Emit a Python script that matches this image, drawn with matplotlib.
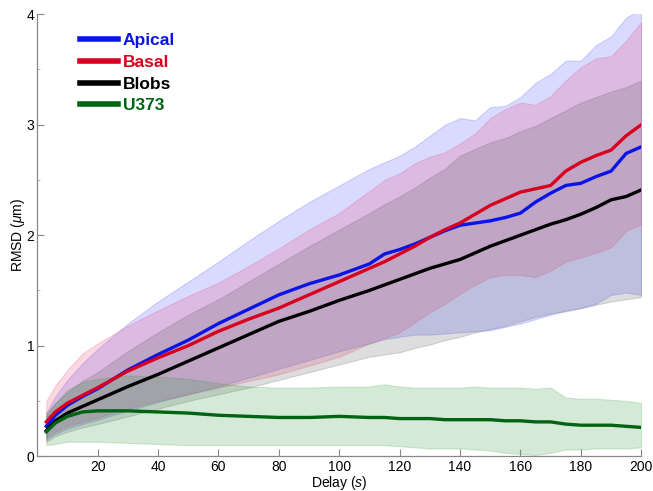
import numpy as np
from matplotlib import pyplot as plt
from matplotlib.ticker import MultipleLocator

plt.rcParams["font.family"] = ["Liberation Sans", "DejaVu Sans"]
plt.rcParams["mathtext.fontset"] = "custom"
plt.rcParams["mathtext.it"] = "Liberation Sans:italic"
plt.rcParams["mathtext.rm"] = "Liberation Sans"

delay = [3, 6, 10, 15, 20, 30, 40, 50, 60, 70, 80, 90, 100, 110, 115, 120, 125,
         130, 135, 140, 145, 150, 155, 160, 165, 170, 175, 180, 185, 190, 195, 200]

apical = [0.27, 0.37, 0.46, 0.54, 0.61, 0.78, 0.92, 1.05, 1.20, 1.33, 1.46, 1.56, 1.64,
          1.74, 1.83, 1.87, 1.92, 1.98, 2.04, 2.09, 2.11, 2.13, 2.16, 2.20, 2.30, 2.38,
          2.45, 2.47, 2.53, 2.58, 2.74, 2.80]
apical_hi = [0.39, 0.54, 0.69, 0.84, 0.97, 1.20, 1.40, 1.58, 1.76, 1.95, 2.13, 2.30, 2.45,
             2.60, 2.66, 2.72, 2.80, 2.90, 3.00, 3.06, 3.04, 3.16, 3.17, 3.25, 3.38, 3.46,
             3.58, 3.58, 3.72, 3.80, 3.97, 4.05]
apical_lo = [0.15, 0.20, 0.25, 0.29, 0.33, 0.41, 0.49, 0.56, 0.63, 0.71, 0.79, 0.87, 0.95,
             1.02, 1.06, 1.08, 1.10, 1.10, 1.11, 1.12, 1.13, 1.14, 1.17, 1.20, 1.24, 1.28,
             1.32, 1.34, 1.38, 1.46, 1.48, 1.46]

basal = [0.31, 0.40, 0.48, 0.55, 0.62, 0.77, 0.89, 1.00, 1.13, 1.24, 1.34, 1.46, 1.58,
         1.70, 1.76, 1.83, 1.90, 1.98, 2.05, 2.11, 2.19, 2.27, 2.33, 2.39, 2.42, 2.45,
         2.58, 2.66, 2.72, 2.77, 2.90, 3.00]
basal_hi = [0.50, 0.64, 0.78, 0.93, 1.02, 1.18, 1.32, 1.45, 1.57, 1.72, 1.88, 2.05, 2.20,
            2.40, 2.50, 2.56, 2.65, 2.71, 2.75, 2.83, 2.92, 3.06, 3.14, 3.20, 3.18, 3.26,
            3.40, 3.52, 3.60, 3.62, 3.76, 3.93]
basal_lo = [0.17, 0.22, 0.27, 0.31, 0.35, 0.43, 0.50, 0.56, 0.62, 0.68, 0.74, 0.82, 0.90,
            1.02, 1.07, 1.12, 1.21, 1.30, 1.38, 1.47, 1.55, 1.62, 1.64, 1.64, 1.62, 1.68,
            1.76, 1.80, 1.84, 1.89, 2.04, 2.10]

blobs = [0.23, 0.32, 0.39, 0.45, 0.51, 0.63, 0.74, 0.86, 0.98, 1.10, 1.22, 1.31, 1.41,
         1.50, 1.55, 1.60, 1.65, 1.70, 1.74, 1.78, 1.84, 1.90, 1.95, 2.00, 2.05, 2.10,
         2.14, 2.19, 2.25, 2.32, 2.35, 2.41]
blobs_hi = [0.39, 0.48, 0.58, 0.68, 0.76, 0.95, 1.12, 1.28, 1.42, 1.58, 1.74, 1.90, 2.05,
            2.20, 2.28, 2.35, 2.43, 2.52, 2.60, 2.72, 2.78, 2.84, 2.88, 2.94, 2.99, 3.06,
            3.13, 3.20, 3.25, 3.30, 3.34, 3.40]
blobs_lo = [0.13, 0.18, 0.22, 0.26, 0.29, 0.36, 0.43, 0.50, 0.56, 0.62, 0.69, 0.76, 0.83,
            0.90, 0.92, 0.94, 0.98, 1.01, 1.05, 1.08, 1.12, 1.15, 1.18, 1.22, 1.26, 1.29,
            1.31, 1.34, 1.37, 1.40, 1.42, 1.44]

u373 = [0.22, 0.30, 0.36, 0.40, 0.41, 0.41, 0.40, 0.39, 0.37, 0.36, 0.35, 0.35, 0.36,
        0.35, 0.35, 0.34, 0.34, 0.34, 0.33, 0.33, 0.33, 0.33, 0.32, 0.32, 0.31, 0.31,
        0.29, 0.28, 0.28, 0.28, 0.27, 0.26]
u373_hi = [0.36, 0.48, 0.60, 0.67, 0.70, 0.73, 0.72, 0.70, 0.66, 0.63, 0.62, 0.62, 0.63,
           0.63, 0.65, 0.63, 0.62, 0.62, 0.62, 0.62, 0.63, 0.62, 0.62, 0.62, 0.61, 0.62,
           0.53, 0.52, 0.52, 0.51, 0.50, 0.48]
u373_lo = [0.10, 0.11, 0.13, 0.13, 0.13, 0.12, 0.11, 0.10, 0.10, 0.10, 0.10, 0.10, 0.10,
           0.10, 0.10, 0.09, 0.08, 0.07, 0.07, 0.07, 0.06, 0.05, 0.03, 0.02, 0.01, 0.03,
           0.06, 0.06, 0.07, 0.07, 0.07, 0.08]

series = [
    ("Apical", apical, apical_lo, apical_hi, "#0a14e6", "#3c46ff"),
    ("Basal", basal, basal_lo, basal_hi, "#d7001e", "#f03c6e"),
    ("Blobs", blobs, blobs_lo, blobs_hi, "#000000", "#555555"),
    ("U373", u373, u373_lo, u373_hi, "#006414", "#2a9a3a"),
]

fig = plt.figure(figsize=(6.53, 4.91), dpi=100)
ax = fig.add_axes([0.057, 0.071, 0.925, 0.900])

x = np.array(delay)
for name, mean, lo, hi, col, fcol in series:
    ax.fill_between(x, lo, hi, facecolor=fcol, edgecolor=fcol, alpha=0.2, linewidth=0.8)

for name, mean, lo, hi, col, fcol in series:
    ax.plot(x, mean, color=col, linewidth=2.4, label=name)

ax.set_xlim(0, 200)
ax.set_ylim(0, 4)
ax.set_xticks(np.arange(20, 201, 20))
ax.set_yticks([0, 1, 2, 3, 4])
ax.yaxis.set_minor_locator(MultipleLocator(0.5))
ax.tick_params(direction="in", color="#888888", length=5, width=0.8, labelsize=10)
ax.tick_params(which="minor", direction="in", color="#aaaaaa", length=2.5, width=0.6)
ax.tick_params(axis="y", pad=2)
ax.tick_params(axis="x", pad=3)

for side in ["top", "right"]:
    ax.spines[side].set_visible(False)
for side in ["left", "bottom"]:
    ax.spines[side].set_color("#888888")
    ax.spines[side].set_linewidth(0.9)

ax.set_xlabel(r"Delay ($s$)", fontsize=10, labelpad=0)
ax.set_ylabel(r"RMSD ($\mu$m)", fontsize=10, labelpad=0)

leg = ax.legend(loc="upper left", bbox_to_anchor=(0.05, 0.985), frameon=False,
                prop={"weight": "bold", "size": 12.5}, handlelength=2.2,
                handletextpad=0.3, labelspacing=0.38, borderpad=0.2)
for line, text in zip(leg.get_lines(), leg.get_texts()):
    line.set_linewidth(4)
    text.set_color(line.get_color())

fig.savefig("out.png", dpi=100)
plt.close(fig)
